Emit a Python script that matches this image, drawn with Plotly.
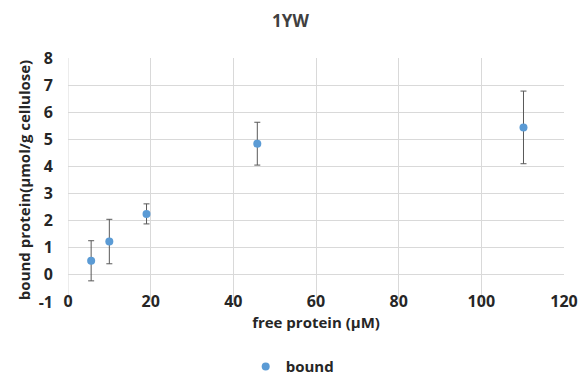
import plotly.graph_objects as go

free_protein = [5.6, 10.0, 19.0, 45.8, 110.2]
bound = [0.52, 1.23, 2.25, 4.84, 5.44]
bound_err = [0.74, 0.82, 0.37, 0.79, 1.34]

x_ticks = [0, 20, 40, 60, 80, 100, 120]
y_ticks = [-1, 0, 1, 2, 3, 4, 5, 6, 7, 8]

FONT = "Open Sans"

fig = go.Figure()
fig.add_trace(go.Scatter(
    x=free_protein, y=bound, mode="markers", name="<b>bound</b>",
    marker=dict(color="#5b9bd5", size=8),
    error_y=dict(type="data", array=bound_err, visible=True,
                 color="#595959", thickness=1, width=3),
))

fig.update_layout(
    width=581, height=377,
    margin=dict(l=68, r=17, t=58, b=75, autoexpand=False),
    paper_bgcolor="white", plot_bgcolor="white",
    title=dict(text="<b>1YW</b>", x=0.5, xanchor="center", y=0.945, yanchor="middle",
               font=dict(family=FONT, size=17, color="#404040")),
    font=dict(family=FONT, color="#262626"),
    showlegend=True,
    legend=dict(orientation="h", x=0.452, xanchor="center", yref="container",
                y=0.027, yanchor="middle",
                font=dict(family=FONT, size=15, color="#262626"), itemwidth=30),
    xaxis=dict(range=[0, 120], tickvals=x_ticks, ticktext=[f"<b>{v}</b>" for v in x_ticks],
               showgrid=True, gridcolor="#d9d9d9", gridwidth=1, zeroline=False,
               showline=False, ticks="", tickfont=dict(size=16, color="#262626"),
               ticklabelstandoff=-12,
               title=dict(text="<b>free protein (µM)</b>", font=dict(size=15, color="#262626"), standoff=0)),
    yaxis=dict(range=[-1, 8], tickvals=y_ticks, ticktext=[f"<b>{v}</b>" for v in y_ticks],
               showgrid=True, gridcolor="#d9d9d9", gridwidth=1, zeroline=False,
               showline=False, ticks="", tickfont=dict(size=16, color="#262626"),
               ticklabelstandoff=14,
               title=dict(text="<b>bound protein(µmol/g cellulose)</b>", font=dict(size=15, color="#262626"), standoff=4)),
)
fig.add_shape(type="line", xref="x", yref="paper", x0=0, x1=0, y0=0, y1=1,
              line=dict(color="#d9d9d9", width=1), layer="below")

fig.write_html("out.html")
